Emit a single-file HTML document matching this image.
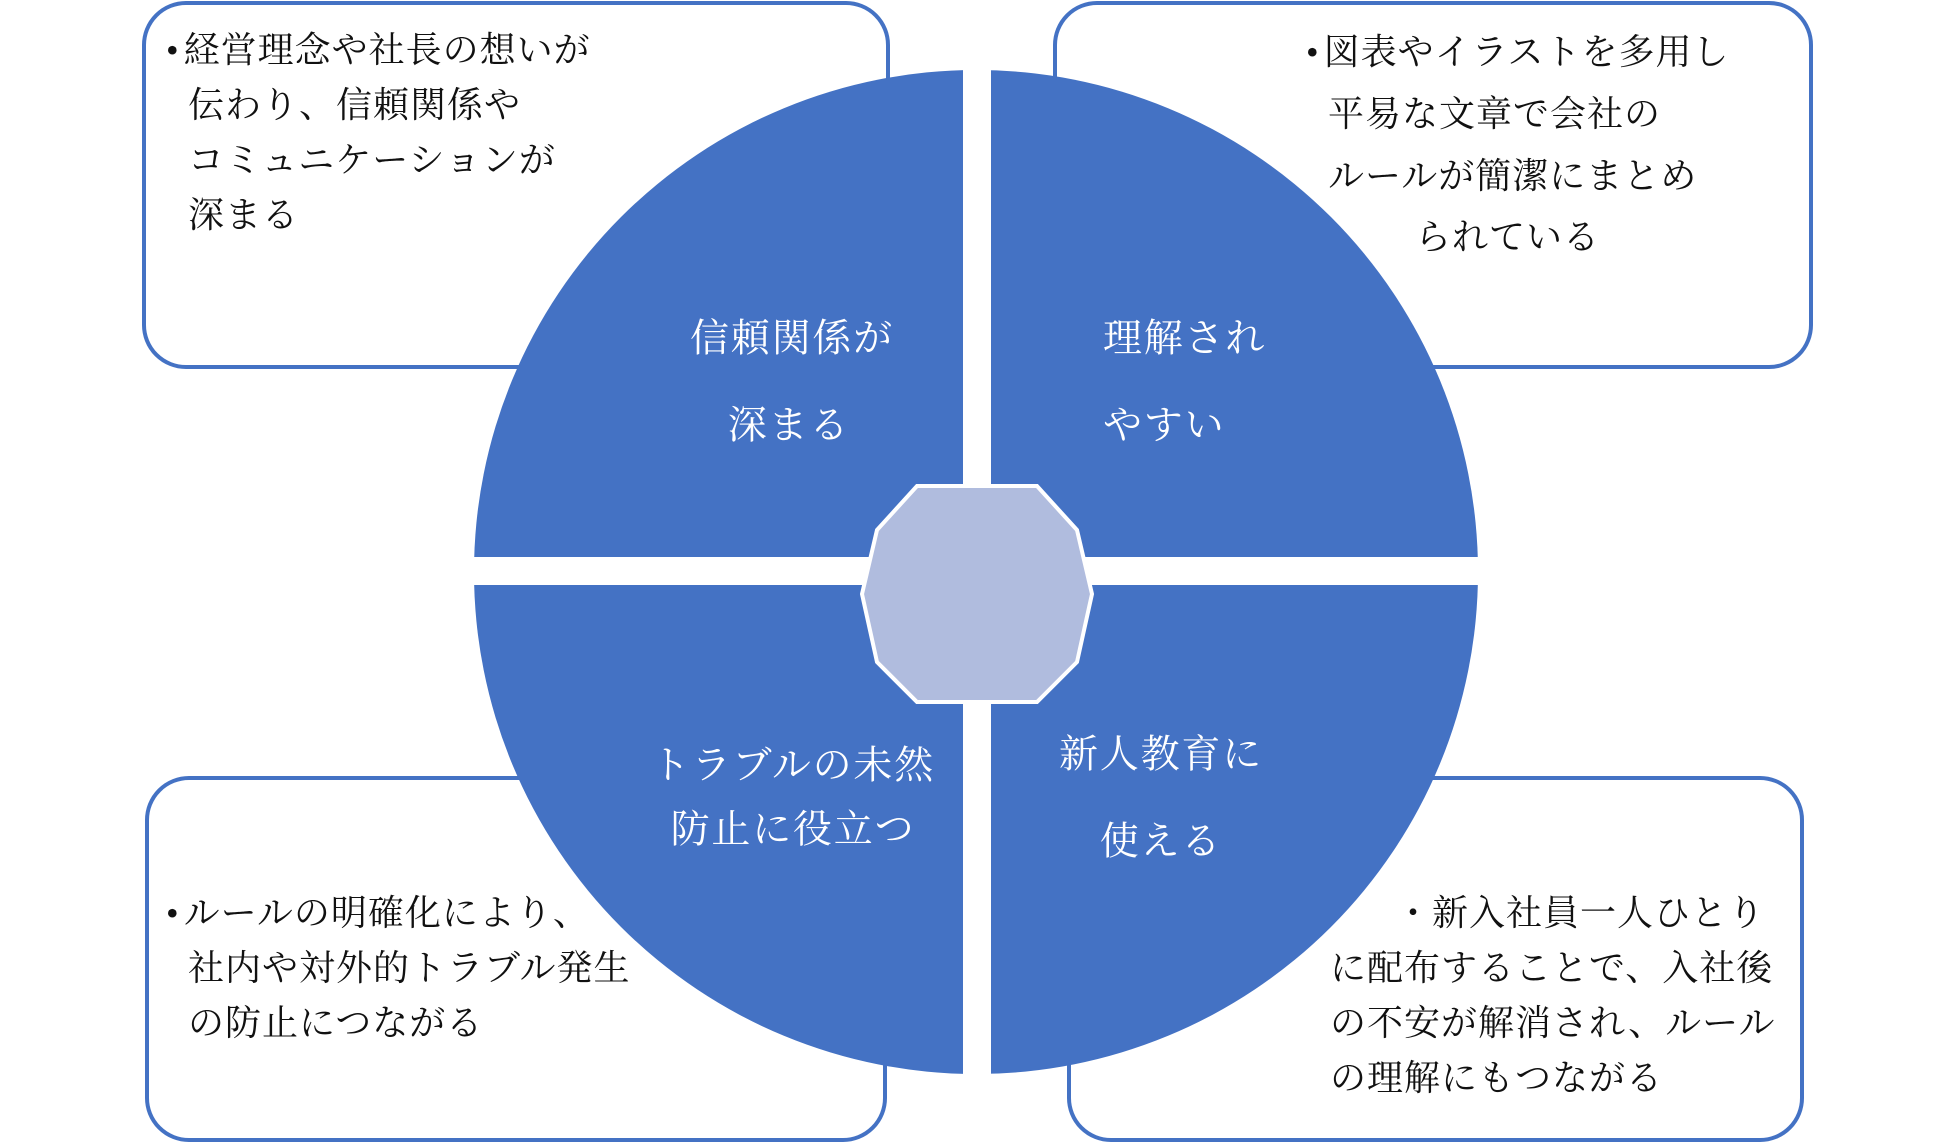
<!DOCTYPE html>
<html><head><meta charset="utf-8"><style>
html,body{margin:0;padding:0;background:#fff;}
#c{position:relative;width:1949px;height:1142px;overflow:hidden;font-family:"Liberation Serif","Noto Serif CJK SC","Noto Sans CJK JP",serif;}
.t{position:absolute;white-space:nowrap;font-size:36px;letter-spacing:1px;line-height:1;color:#111;transform:translateY(-50%);}
.w{position:absolute;white-space:nowrap;font-size:39px;letter-spacing:1.8px;line-height:1;color:#fff;transform:translate(-50%,-50%);}
.wl{position:absolute;white-space:nowrap;font-size:39px;letter-spacing:1.8px;line-height:1;color:#fff;transform:translateY(-50%);}
.b{margin-right:4px;}
</style></head><body><div id="c">
<svg width="1949" height="1142" style="position:absolute;left:0;top:0">
<g fill="#fff" stroke="#4472C4" stroke-width="4">
<rect x="144" y="3" width="744" height="364" rx="42"/>
<rect x="1055" y="3" width="756" height="364" rx="42"/>
<rect x="147" y="778" width="738" height="362" rx="42"/>
<rect x="1069" y="778" width="733" height="362" rx="42"/>
</g>
<circle cx="976" cy="572" r="502" fill="#4472C4"/>
<rect x="963" y="60" width="28" height="1030" fill="#fff"/>
<rect x="465" y="557" width="1020" height="28" fill="#fff"/>
<polygon fill="#B0BCDE" stroke="#fff" stroke-width="4" points="917,486 1037,486 1077,530 1092,594 1077,662 1037,702 917,702 877,662 862,594 877,530"/>
</svg>
<div class="t" style="left:166px;top:50px"><span class="b">•</span>経営理念や社長の想いが</div>
<div class="t" style="left:188px;top:105px">伝わり、信頼関係や</div>
<div class="t" style="left:188px;top:160px">コミュニケーションが</div>
<div class="t" style="left:188px;top:215px">深まる</div>
<div class="t" style="left:1306px;top:52px"><span class="b">•</span>図表やイラストを多用し</div>
<div class="t" style="left:1328px;top:114px">平易な文章で会社の</div>
<div class="t" style="left:1328px;top:176px">ルールが簡潔にまとめ</div>
<div class="t" style="left:1415px;top:237px">られている</div>
<div class="t" style="left:166px;top:913px"><span class="b">•</span>ルールの明確化により、</div>
<div class="t" style="left:188px;top:968px">社内や対外的トラブル発生</div>
<div class="t" style="left:188px;top:1023px">の防止につながる</div>
<div class="t" style="left:1395px;top:913px">・新入社員一人ひとり</div>
<div class="t" style="left:1330px;top:968px">に配布することで、入社後</div>
<div class="t" style="left:1330px;top:1023px">の不安が解消され、ルール</div>
<div class="t" style="left:1330px;top:1078px">の理解にもつながる</div>
<div class="w" style="left:792px;top:339px">信頼関係が</div>
<div class="w" style="left:789px;top:426px">深まる</div>
<div class="wl" style="left:1103px;top:339px">理解され</div>
<div class="wl" style="left:1103px;top:426px">やすい</div>
<div class="w" style="left:793px;top:766px">トラブルの未然</div>
<div class="w" style="left:793px;top:830px">防止に役立つ</div>
<div class="w" style="left:1161px;top:755px">新人教育に</div>
<div class="w" style="left:1161px;top:842px">使える</div>
</div></body></html>
